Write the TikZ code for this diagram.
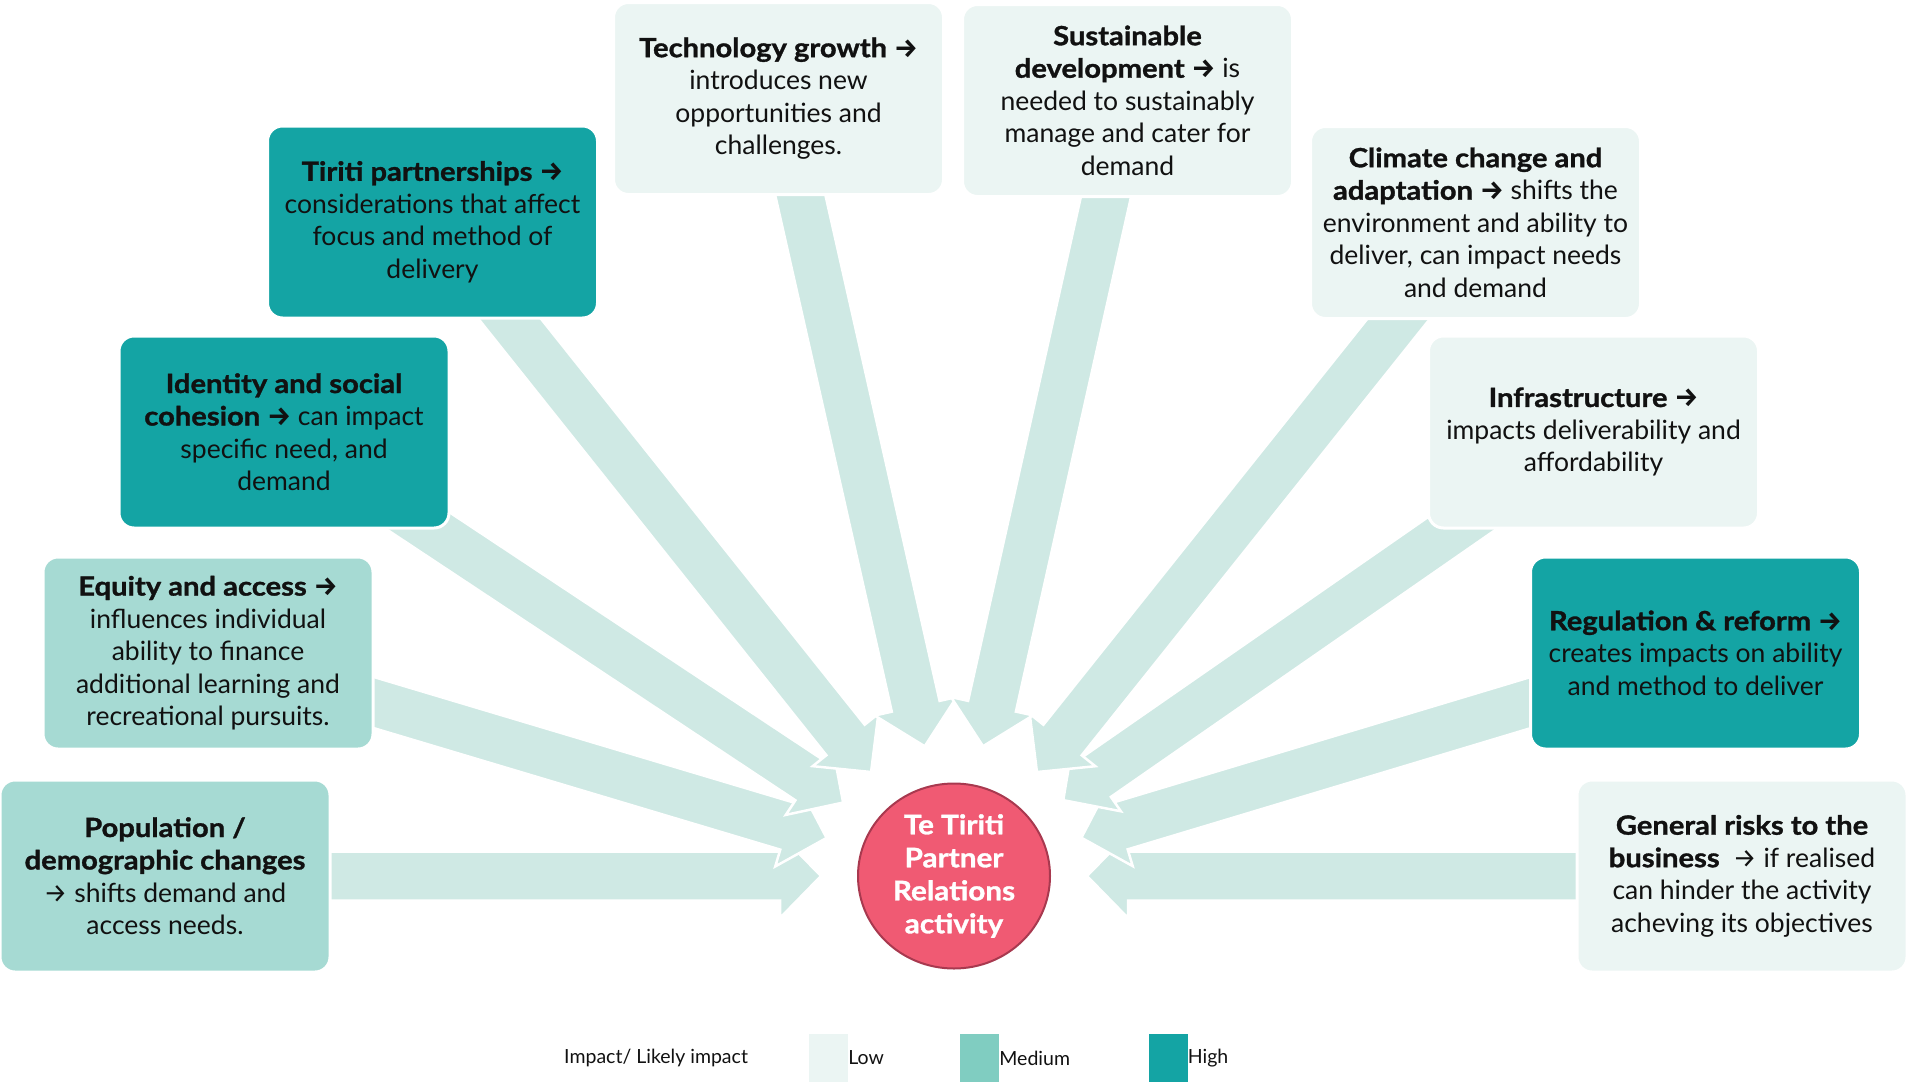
\documentclass[tikz,border=0pt]{standalone}
\usepackage{fontspec}
\setmainfont{Lato}[BoldFeatures={FakeStretch=1.1,FakeBold=1.2}]
\newfontfamily\symf{Fira Sans}
\usetikzlibrary{calc,backgrounds,shapes.geometric}
\definecolor{lowc}{HTML}{EBF5F3}
\definecolor{medc}{HTML}{A6DAD3}
\definecolor{highc}{HTML}{14A4A4}
\definecolor{legmed}{HTML}{80CDC1}
\definecolor{arrowc}{HTML}{CFE9E4}
\definecolor{corefill}{HTML}{F05A73}
\definecolor{coreline}{HTML}{A8394F}
\definecolor{txt}{HTML}{111111}
\newcommand\ra{{\symf →}}
\newcommand\fatarrow[2]{%
  \coordinate (fa-t) at ($(#2.center)!133pt!(#1.center)$);
  \coordinate (fa-b) at ($(fa-t)!41pt!(#1.center)$);
  \filldraw[fatarrow] ($(#1.center)!24.5pt!90:(fa-t)$) -- ($(fa-b)!24.5pt!90:(fa-t)$) -- ($(fa-b)!42pt!90:(fa-t)$) -- (fa-t) -- ($(fa-b)!42pt!-90:(fa-t)$) -- ($(fa-b)!24.5pt!-90:(fa-t)$) -- ($(#1.center)!24.5pt!-90:(fa-t)$) -- cycle;}
\tikzset{
  box/.style={draw=white, line width=3pt, rounded corners=15pt, minimum width=330, minimum height=192, align=center, text=txt, font=\fontsize{26.5}{32.5}\selectfont, inner sep=0pt},
  lowbox/.style={box, fill=lowc},
  medbox/.style={box, fill=medc},
  highbox/.style={box, fill=highc},
  fatarrow/.style={draw=white, line width=2.5pt, fill=arrowc, line join=miter},
  legsq/.style={minimum width=39, minimum height=48, inner sep=0pt, draw=none},
  legtxt/.style={font=\fontsize{19.5}{22}\selectfont, text=txt, inner sep=0pt}
}
\begin{document}
\begin{tikzpicture}[x=1pt,y=-1pt]
\useasboundingbox (0,0) rectangle (1907,1082);
\node[draw=coreline, line width=2pt, fill=corefill, ellipse, minimum width=192, minimum height=185, inner sep=0pt] (core) at (954,876) {};
\node[align=center, text=white, font=\bfseries\fontsize{27}{33}\selectfont] (coretxt) at (954,876) {Te Tiriti\\Partner\\Relations\\activity};

\node[medbox] (pop) at (165,876) {\textbf{Population /}\\\textbf{demographic changes}\\\ra{} shifts demand and\\access needs.};
\node[medbox] (eq) at (208,653) {\textbf{Equity and access \ra}\\influences individual\\ability to finance\\additional learning and\\recreational pursuits.};
\node[highbox] (id) at (284,432) {\textbf{Identity and social}\\\textbf{cohesion \ra} can impact\\specific need, and\\demand};
\node[highbox] (tir) at (432.5,222) {\textbf{Tiriti partnerships \ra}\\considerations that affect\\focus and method of\\delivery};
\node[lowbox] (tech) at (778.5,98.5) {\textbf{Technology growth \ra}\\introduces new\\opportunities and\\challenges.};
\node[lowbox] (sus) at (1127.5,100.5) {\textbf{Sustainable}\\\textbf{development \ra} is\\needed to sustainably\\manage and cater for\\demand};
\node[lowbox] (cli) at (1475.5,222.5) {\textbf{Climate change and}\\\textbf{adaptation \ra} shifts the\\environment and ability to\\deliver, can impact needs\\and demand};
\node[lowbox] (inf) at (1593.5,432) {\textbf{Infrastructure \ra}\\impacts deliverability and\\affordability};
\node[highbox] (reg) at (1695.5,653) {\textbf{Regulation \& reform \ra}\\creates impacts on ability\\and method to deliver};
\node[lowbox] (gen) at (1742,876) {\textbf{General risks to the}\\\textbf{business}\enspace\ra{} if realised\\can hinder the activity\\acheving its objectives};

\begin{scope}[on background layer]
\fatarrow{pop}{core}
\fatarrow{eq}{core}
\fatarrow{id}{core}
\fatarrow{tir}{core}
\fatarrow{tech}{core}
\fatarrow{gen}{core}
\fatarrow{reg}{core}
\fatarrow{inf}{core}
\fatarrow{cli}{core}
\fatarrow{sus}{core}
\end{scope}

\node[legtxt, anchor=west] (legt) at (564,1058) {Impact/ Likely impact};
\node[legsq, fill=lowc] (lowsq) at (828.5,1058) {};
\node[legtxt, anchor=west] (lowt) at (lowsq.east) {Low};
\node[legsq, fill=legmed] (medsq) at (979.5,1058) {};
\node[legtxt, anchor=west] (medt) at (medsq.east) {Medium};
\node[legsq, fill=highc] (highsq) at (1168,1058) {};
\node[legtxt, anchor=west] (hight) at (highsq.east) {High};
\end{tikzpicture}
\end{document}
